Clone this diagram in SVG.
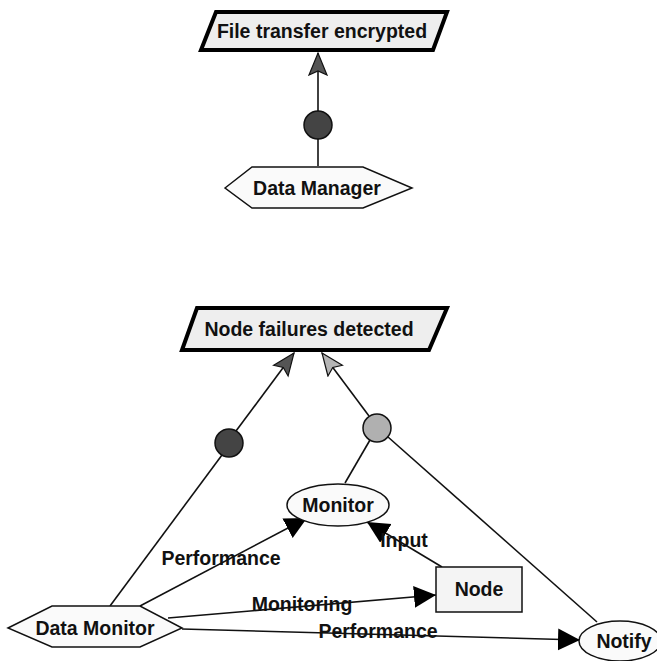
<svg xmlns="http://www.w3.org/2000/svg" width="657" height="661" viewBox="0 0 657 661">
  <style>
    text { font-family: "Liberation Sans", Arial, sans-serif; font-weight: bold; font-size: 19.5px; fill: #111; text-anchor: middle; dominant-baseline: central; }
    .goal { fill: #eeeeee; stroke: #000; stroke-width: 4; stroke-linejoin: miter; }
    .agent { fill: #fafafa; stroke: #111; stroke-width: 1.5; }
    .box { fill: #f4f4f4; stroke: #111; stroke-width: 1.5; }
    .edge { fill: none; stroke: #111; stroke-width: 1.6; }
    .dark { fill: #444; stroke: #111; stroke-width: 1.5; }
    .light { fill: #b0b0b0; stroke: #111; stroke-width: 1.5; }
  </style>
  <defs>
    <marker id="arrowBlack" markerUnits="userSpaceOnUse" markerWidth="24" markerHeight="24" refX="22" refY="11" orient="auto">
      <path d="M0,0 L22,11 L0,22 z" fill="#000"/>
    </marker>
    <marker id="arrowDark" markerUnits="userSpaceOnUse" markerWidth="26" markerHeight="22" refX="23" refY="10" orient="auto">
      <path d="M1,1 L23,10 L1,19 L5,10 z" fill="#555" stroke="#111" stroke-width="1.2"/>
    </marker>
    <marker id="arrowLight" markerUnits="userSpaceOnUse" markerWidth="26" markerHeight="22" refX="23" refY="10" orient="auto">
      <path d="M1,1 L23,10 L1,19 L5,10 z" fill="#b5b5b5" stroke="#111" stroke-width="1.2"/>
    </marker>
  </defs>

  <!-- connectors -->
  <g id="connectors">
    <line class="edge" x1="318" y1="166" x2="318" y2="139"/>
    <line class="edge" x1="318" y1="111" x2="318" y2="53" marker-end="url(#arrowDark)"/>

    <line class="edge" x1="110" y1="606" x2="222" y2="455"/>
    <line class="edge" x1="236" y1="431" x2="294" y2="353" marker-end="url(#arrowDark)"/>

    <line class="edge" x1="345" y1="483" x2="370" y2="440"/>
    <line class="edge" x1="388" y1="437" x2="597" y2="622"/>
    <line class="edge" x1="369" y1="416" x2="322" y2="353" marker-end="url(#arrowLight)"/>

    <line class="edge" x1="140" y1="606" x2="307" y2="518" marker-end="url(#arrowBlack)"/>
    <line class="edge" x1="442" y1="567" x2="367" y2="522" marker-end="url(#arrowBlack)"/>
    <line class="edge" x1="168" y1="618" x2="436" y2="595" marker-end="url(#arrowBlack)"/>
    <line class="edge" x1="182" y1="629" x2="580" y2="640" marker-end="url(#arrowBlack)"/>

    <text x="221" y="558">Performance</text>
    <text x="404" y="540">Input</text>
    <text x="302" y="604">Monitoring</text>
    <text x="378" y="631">Performance</text>
  </g>

  <!-- goals -->
  <g id="goal-file-transfer">
    <polygon class="goal" points="216,12 447,12 433,50 201,50"/>
    <text x="322" y="31">File transfer encrypted</text>
  </g>
  <g id="goal-node-failures">
    <polygon class="goal" points="197,308 447,308 429,350 182,350"/>
    <text x="309" y="329">Node failures detected</text>
  </g>

  <!-- refinement points -->
  <g id="and-file-transfer"><circle class="dark" cx="318" cy="125" r="14"/></g>
  <g id="and-node-failures"><circle class="dark" cx="229" cy="443" r="14"/></g>
  <g id="or-node-failures"><circle class="light" cx="377" cy="428" r="14"/></g>

  <!-- agents -->
  <g id="data-manager">
    <polygon class="agent" points="225,188 252,167 363,167 412,188 363,208 252,208"/>
    <text x="317" y="188">Data Manager</text>
  </g>
  <g id="data-monitor">
    <polygon class="agent" points="8,628 52,606 140,606 182,628 140,647 52,647"/>
    <text x="95" y="628">Data Monitor</text>
  </g>

  <!-- operations and objects -->
  <g id="monitor">
    <ellipse class="agent" cx="338" cy="505" rx="51" ry="21"/>
    <text x="338" y="505">Monitor</text>
  </g>
  <g id="node">
    <rect class="box" x="436" y="567" width="86" height="45"/>
    <text x="479" y="589">Node</text>
  </g>
  <g id="notify">
    <ellipse class="agent" cx="620" cy="641" rx="41" ry="20"/>
    <text x="624" y="641">Notify</text>
  </g>
</svg>
